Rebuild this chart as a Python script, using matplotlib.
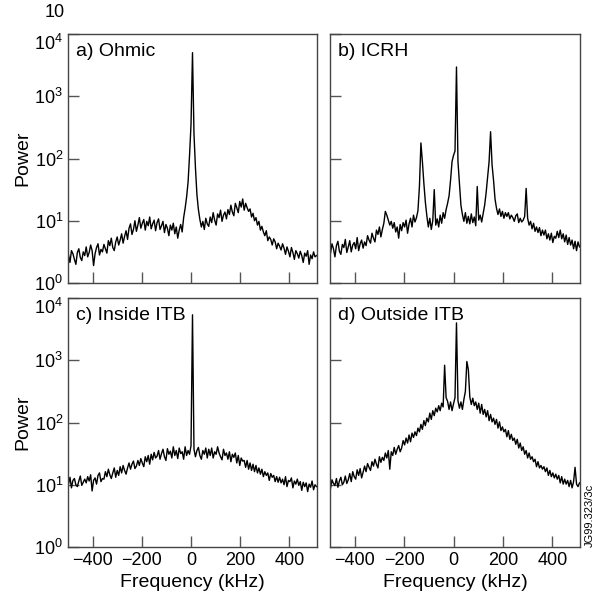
import matplotlib.pyplot as plt
import matplotlib as mpl
import numpy as np

mpl.rcParams['font.family'] = ['Liberation Sans', 'DejaVu Sans']
mpl.rcParams['mathtext.fontset'] = 'custom'
mpl.rcParams['mathtext.rm'] = 'Liberation Sans'

# log10(power) sampled every 6 kHz starting at -498 kHz
ohmic = [
    0.45, 0.33, 0.52, 0.47, 0.38, 0.30, 0.49, 0.55, 0.41, 0.36, 0.50, 0.44,
    0.58, 0.42, 0.49, 0.61, 0.52, 0.28, 0.47, 0.57, 0.63, 0.45, 0.54, 0.50,
    0.62, 0.55, 0.48, 0.68, 0.60, 0.72, 0.57, 0.52, 0.66, 0.74, 0.61, 0.69,
    0.79, 0.64, 0.75, 0.84, 0.70, 0.88, 0.95, 0.78, 0.86, 1.00, 0.83, 0.93,
    1.05, 0.88, 0.96, 1.02, 0.85, 0.99, 0.92, 1.06, 0.87, 0.95, 1.01, 0.84,
    0.97, 1.03, 0.86, 0.92, 0.99, 0.81, 0.94, 0.88, 0.76, 0.93, 0.85, 0.96,
    0.79, 0.90, 0.72, 0.85, 0.94, 0.82, 1.05, 1.20, 1.38, 1.62, 2.05, 2.55,
    3.70, 2.40, 1.85, 1.42, 1.18, 1.02, 0.90, 0.99, 0.86, 1.04, 0.95, 0.91,
    1.06, 0.97, 1.13, 1.01, 0.93, 1.11, 1.05, 1.17, 0.99, 1.09, 1.14, 1.03,
    1.18, 1.10, 1.25, 1.14, 1.08, 1.28, 1.21, 1.13, 1.31, 1.22, 1.35, 1.17,
    1.28, 1.21, 1.15, 1.19, 1.06, 1.12, 1.00, 1.05, 0.93, 0.99, 0.85, 0.91,
    0.82, 0.76, 0.84, 0.68, 0.74, 0.70, 0.61, 0.71, 0.66, 0.55, 0.64, 0.59,
    0.53, 0.63, 0.56, 0.46, 0.58, 0.51, 0.42, 0.57, 0.49, 0.38, 0.52, 0.47,
    0.40, 0.51, 0.44, 0.33, 0.48, 0.43, 0.52, 0.30, 0.45, 0.39, 0.50, 0.42,
    0.44,
]

icrh = [
    0.48, 0.63, 0.55, 0.42, 0.60, 0.67, 0.51, 0.46, 0.62, 0.57, 0.70, 0.49,
    0.58, 0.68, 0.50, 0.61, 0.65, 0.55, 0.73, 0.52, 0.63, 0.69, 0.56, 0.66,
    0.60, 0.76, 0.69, 0.64, 0.80, 0.72, 0.66, 0.85, 0.78, 0.90, 0.74, 0.86,
    0.96, 1.15, 1.09, 1.01, 0.93, 0.99, 0.88, 0.97, 0.82, 0.90, 0.72, 0.94,
    0.84, 0.97, 0.90, 1.01, 0.80, 0.95, 1.04, 0.90, 1.09, 0.98, 1.05, 1.16,
    1.55, 2.25, 1.95, 1.60, 1.30, 1.08, 0.90, 1.04, 0.86, 1.00, 1.50, 0.93,
    1.03, 0.90, 1.09, 0.96, 1.13, 1.04, 1.18, 1.28, 1.40, 1.65, 1.95, 2.05,
    2.12, 3.47, 1.95, 1.60, 1.25, 1.10, 0.99, 1.13, 0.96, 1.07, 0.95, 1.11,
    0.97, 1.06, 0.92, 1.55, 1.01, 1.09, 0.98, 1.12, 1.25, 1.45, 1.70, 1.95,
    2.43, 1.90, 1.65, 1.35, 1.20, 1.10, 1.19, 1.07, 1.15, 1.04, 1.13, 1.07,
    1.13, 1.03, 1.09, 1.05, 0.99, 1.08, 1.11, 0.97, 1.04, 0.98, 1.01, 1.07,
    1.52, 1.04, 0.93, 0.99, 0.87, 0.96, 0.83, 0.90, 0.81, 0.89, 0.76, 0.85,
    0.77, 0.85, 0.71, 0.79, 0.69, 0.80, 0.65, 0.75, 0.72, 0.83, 0.73, 0.85,
    0.71, 0.79, 0.66, 0.77, 0.62, 0.73, 0.61, 0.69, 0.55, 0.67, 0.52, 0.66,
    0.58,
]

inside_itb = [
    1.01, 1.12, 0.95, 1.07, 1.10, 1.00, 0.97, 1.06, 1.14, 0.99, 1.04, 1.09,
    1.03, 1.13, 1.06, 1.16, 0.90, 1.07, 1.11, 1.01, 1.15, 1.19, 1.05, 1.10,
    1.09, 1.21, 1.13, 1.25, 1.16, 1.10, 1.19, 1.27, 1.12, 1.23, 1.15, 1.29,
    1.19, 1.31, 1.23, 1.17, 1.27, 1.35, 1.25, 1.33, 1.38, 1.26, 1.30, 1.39,
    1.31, 1.42, 1.35, 1.29, 1.45, 1.37, 1.47, 1.33, 1.49, 1.40, 1.52, 1.43,
    1.46, 1.55, 1.41, 1.50, 1.57, 1.45, 1.39, 1.58, 1.49, 1.54, 1.43, 1.61,
    1.47, 1.55, 1.42, 1.59, 1.50, 1.53, 1.41, 1.61, 1.47, 1.55, 1.49, 1.63,
    3.73, 1.57, 1.45, 1.55, 1.60, 1.47, 1.41, 1.55, 1.49, 1.59, 1.43, 1.57,
    1.47, 1.59, 1.43, 1.53, 1.49, 1.61, 1.51, 1.45, 1.40, 1.57, 1.47, 1.51,
    1.41, 1.53, 1.37, 1.49, 1.44, 1.51, 1.35, 1.47, 1.31, 1.43, 1.38, 1.39,
    1.28, 1.39, 1.25, 1.35, 1.23, 1.33, 1.21, 1.31, 1.19, 1.27, 1.17, 1.25,
    1.13, 1.21, 1.15, 1.19, 1.07, 1.18, 1.12, 1.15, 1.05, 1.13, 1.04, 1.12,
    1.03, 1.09, 1.00, 1.13, 0.97, 1.07, 1.05, 1.11, 0.95, 1.06, 1.01, 1.09,
    0.99, 1.05, 0.91, 1.04, 0.97, 1.03, 0.89, 1.01, 0.96, 1.06, 0.92, 1.00,
    0.97,
]

outside_itb = [
    0.94, 1.08, 1.02, 0.99, 1.10, 0.96, 1.06, 1.12, 1.00, 1.04, 1.14, 1.02,
    1.08, 1.18, 1.05, 1.21, 1.13, 1.09, 1.24, 1.15, 1.26, 1.11, 1.20, 1.30,
    1.21, 1.34, 1.28, 1.23, 1.37, 1.30, 1.41, 1.33, 1.27, 1.45, 1.36, 1.44,
    1.39, 1.51, 1.43, 1.55, 1.25, 1.53, 1.47, 1.60, 1.49, 1.57, 1.63, 1.53,
    1.59, 1.71, 1.64, 1.75, 1.67, 1.80, 1.69, 1.83, 1.76, 1.85, 1.79, 1.91,
    1.85, 1.97, 1.89, 2.03, 1.95, 2.07, 2.01, 2.15, 2.05, 2.19, 2.11, 2.23,
    2.17, 2.27, 2.19, 2.31, 2.25, 2.92, 2.40, 2.34, 2.21, 2.33, 2.19, 2.30,
    2.40, 3.60, 2.35, 2.23, 2.33, 2.21, 2.37, 2.50, 2.98, 2.85, 2.41, 2.29,
    2.39, 2.27, 2.33, 2.21, 2.31, 2.15, 2.29, 2.13, 2.21, 2.09, 2.19, 2.03,
    2.13, 2.01, 2.07, 1.97, 2.05, 1.91, 2.01, 1.87, 1.93, 1.85, 1.89, 1.77,
    1.87, 1.73, 1.81, 1.71, 1.75, 1.65, 1.73, 1.59, 1.67, 1.55, 1.61, 1.49,
    1.55, 1.43, 1.51, 1.41, 1.45, 1.37, 1.41, 1.29, 1.37, 1.27, 1.31, 1.25,
    1.29, 1.21, 1.27, 1.15, 1.23, 1.13, 1.19, 1.11, 1.17, 1.09, 1.15, 1.03,
    1.13, 1.01, 1.09, 1.01, 1.07, 0.97, 1.07, 0.95, 1.05, 1.28, 1.01, 0.97,
    1.03,
]

panels = [
    ('a) Ohmic', ohmic),
    ('b) ICRH', icrh),
    ('c) Inside ITB', inside_itb),
    ('d) Outside ITB', outside_itb),
]

FS = 14
W, H = 601, 603
fig = plt.figure(figsize=(W / 100, H / 100), dpi=100)

# axes boxes in pixels: left, top, right, bottom
boxes = [(68, 34, 317, 283), (330, 34, 580, 283),
         (68, 298, 317, 547), (330, 298, 580, 547)]

for i, ((label, vals), (l, t, r, b)) in enumerate(zip(panels, boxes)):
    ax = fig.add_axes([l / W, 1 - b / H, (r - l) / W, (b - t) / H])
    freq = -498 + 6 * np.arange(len(vals))
    ax.plot(freq, 10 ** np.array(vals), color='black', lw=1.0)
    ax.set_yscale('log')
    ax.set_ylim(1, 1e4)
    ax.set_xlim(-500, 512)
    ax.set_xticks([-400, -200, 0, 200, 400])
    ax.set_yticks([1, 10, 100, 1000, 10000])
    ax.yaxis.set_minor_locator(mpl.ticker.NullLocator())
    ax.tick_params(direction='in', length=8, width=1, color='#555555',
                   labelsize=13, top=False, right=False)
    for s in ax.spines.values():
        s.set_color('#444444')
        s.set_linewidth(1)
    row, col = divmod(i, 2)
    if row == 0:
        ax.set_xticklabels([])
    else:
        ax.set_xlabel('Frequency (kHz)', fontsize=FS, labelpad=4)
    if col == 1:
        ax.set_yticklabels([])
    else:
        ax.set_ylabel('Power', fontsize=FS, labelpad=2)
        # top label hangs below the top edge, as in the original
        ax.get_yticklabels()[-1].set_verticalalignment('top')
    ax.text(0.032, 0.93, label, transform=ax.transAxes, fontsize=FS,
            ha='left', va='center')

fig.text(45 / W, 1 - 4 / H, '10', fontsize=13, ha='left', va='top')
fig.text(590 / W, 1 - 515 / H, 'JG99.323/3c', fontsize=8, rotation=90,
         ha='center', va='center')

plt.savefig('out.png', dpi=100)
